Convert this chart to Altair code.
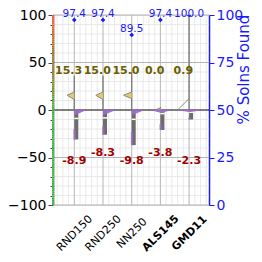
import json
import altair as alt
import numpy as np
import pandas as pd

# ---- data ----
cats = ["RND150", "RND250", "NN250", "ALS145", "GMD11"]
bold_cats = ["ALS145", "GMD11"]
pct_found = [97.4, 97.4, 89.5, 97.4, 100.0]
gain_mean = [15.3, 15.0, 15.0, 0.0, 0.9]
loss_mean = [-8.9, -8.3, -9.8, -3.8, -2.3]

# gain (positive) half-violin, drawn to the left of each category
gain_top = [36, 36, 40, 3, 100]
gain_lo = [11, 11, 12, 0, 0]
gain_peak = [15.5, 15.5, 15.5, 0.5, 0]
gain_hi = [19, 19, 19, 2, 12]
gain_w = [0.25, 0.25, 0.28, 0.15, 0.4]

# loss (negative) half-violin, drawn to the right of each category
loss_top = [-1, -1, -1, -2, -2]
loss_bot = [-31, -26, -37, -21, -10]
loss_tail = [-20, -17, -23, -15, -8]
loss_depth = [5, 5, 5, 3, 2]
loss_wr = [0.43, 0.45, 0.45, 0.4, 0.5]
loss_wl = [0.0, 0.0, 0.0, 0.35, 0.45]

# ---- styling ----
FONT = "DejaVu Sans"
YELLOW = "#e3c86a"
PURPLE = "#9b6cc9"
GREY = "#6c6c6c"
OLIVE = "#6b5c00"
DARKRED = "#a00000"
BLUE = "#1a1aff"

xs = alt.Scale(domain=[-0.742, 4.694], nice=False, zero=False)
ys = alt.Scale(domain=[-100, 100], nice=False, zero=False)
ys_r = alt.Scale(domain=[0, 100], nice=False, zero=False)

idx = list(range(len(cats)))

label_expr = "%s[datum.value]" % json.dumps(cats)
bold_test = " || ".join("datum.value == %d" % cats.index(c) for c in bold_cats)
X_AX = alt.Axis(
    values=idx, labelExpr=label_expr, title=None, grid=False, ticks=False, domain=False,
    labelAngle=-45, labelAlign="center", labelBaseline="middle", labelPadding=28,
    labelFontSize=11, labelColor="black", labelFont=FONT, labelOverlap=False,
    labelFontWeight={"condition": {"test": bold_test, "value": "bold"}, "value": "normal"})
left_ticks = list(range(-100, 101, 10))
Y_AX = alt.Axis(
    values=left_ticks, labelExpr="datum.value % 50 == 0 ? datum.label : ''",
    title=None, grid=False, domain=False, tickColor="#444",
    tickSize={"condition": {"test": "datum.value % 50 == 0", "value": 5}, "value": 3},
    labelFontSize=14, labelColor="black", labelFont=FONT, labelPadding=2,
    labelOverlap=False, labelFlush=False)
R_AX = alt.Axis(
    orient="right", values=[0, 25, 50, 75, 100], grid=False,
    domainColor=BLUE, domainWidth=1.5, tickColor=BLUE, tickSize=5,
    labelColor=BLUE, labelFontSize=14, labelFont=FONT, labelPadding=2, labelFlush=False,
    title="% Solns Found", titleColor=BLUE, titleFont=FONT, titleFontSize=15,
    titleFontWeight="normal", titleAngle=270, titleX=34, titleY=54,
    titleAlign="center", titleBaseline="middle")


def X(f):
    return alt.X(f, scale=xs, axis=X_AX)


def Y(f):
    return alt.Y(f, scale=ys, axis=Y_AX)


# ---- grid ----
minor_x = [round(v, 2) for v in np.arange(-0.6, 4.7, 0.2) if abs(v - round(v)) > 1e-6]
minor_y = [v for v in range(-100, 101, 10) if v % 50 != 0]
vminor = alt.Chart(pd.DataFrame({"x": minor_x})).mark_rule(color="#e4e4e4", strokeWidth=0.8).encode(x=X("x:Q"))
hminor = alt.Chart(pd.DataFrame({"y": minor_y})).mark_rule(color="#e4e4e4", strokeWidth=0.8).encode(y=Y("y:Q"))
vmajor = alt.Chart(pd.DataFrame({"x": idx})).mark_rule(color="#b5b5b5", strokeWidth=1).encode(x=X("x:Q"))
hmajor = alt.Chart(pd.DataFrame({"y": [-100, -50, 50, 100]})).mark_rule(color="#b5b5b5", strokeWidth=1).encode(y=Y("y:Q"))
zero = alt.Chart(pd.DataFrame({"y": [0]})).mark_rule(color="black", strokeWidth=1).encode(y=Y("y:Q"))

# ---- gain half-violins ----
gain_rows = []
for i in idx:
    gain_rows.append({"cat": cats[i], "y": gain_lo[i], "x": i, "x2": i})
    gain_rows.append({"cat": cats[i], "y": gain_peak[i], "x": i - gain_w[i], "x2": i})
    gain_rows.append({"cat": cats[i], "y": gain_hi[i], "x": i, "x2": i})
gain_df = pd.DataFrame(gain_rows)
gain_area = alt.Chart(gain_df).mark_area(color=YELLOW, opacity=0.95).encode(
    y=Y("y:Q"), x=alt.X("x:Q", scale=xs, axis=X_AX, stack=None), x2="x2:Q", detail="cat:N")
gain_edge = alt.Chart(gain_df).mark_line(color="#8a8a8a", strokeWidth=1).encode(
    y=Y("y:Q"), x=X("x:Q"), detail="cat:N", order="y:Q")

gain_range = alt.Chart(pd.DataFrame({"x": idx, "top": gain_top, "bot": [0] * len(idx)})).mark_rule(
    color="#7a7a7a", strokeWidth=1.3).encode(x=X("x:Q"), y=Y("bot:Q"), y2="top:Q")

# ---- loss half-violins ----
box_df = pd.DataFrame({"x": idx, "x2": [i + 0.14 for i in idx], "top": loss_top, "bot": loss_bot,
                       "tail": loss_tail, "tx": [i - 0.03 for i in idx], "tx2": [i + 0.05 for i in idx],
                       "mean": loss_mean})
loss_box = alt.Chart(box_df).mark_rect(color=GREY).encode(x=X("x:Q"), x2="x2:Q", y=Y("top:Q"), y2="bot:Q")
loss_tail_r = alt.Chart(box_df).mark_rect(color=PURPLE, opacity=0.8).encode(
    x=X("tx:Q"), x2="tx2:Q", y=Y("tail:Q"), y2="bot:Q")
loss_med = alt.Chart(box_df).mark_rule(color="white", strokeWidth=1.5).encode(
    x=X("x:Q"), x2="x2:Q", y=Y("mean:Q"))

wedge_rows = []
for i in idx:
    wedge_rows.append({"cat": cats[i], "y": -loss_depth[i], "x": i, "x2": i + 0.05})
    wedge_rows.append({"cat": cats[i], "y": 0, "x": i - loss_wl[i], "x2": i + loss_wr[i]})
wedge = alt.Chart(pd.DataFrame(wedge_rows)).mark_area(color=PURPLE, opacity=0.95).encode(
    y=Y("y:Q"), x=alt.X("x:Q", scale=xs, axis=X_AX, stack=None), x2="x2:Q", detail="cat:N")

# ---- value labels ----
lab_df = pd.DataFrame({
    "x": idx, "gx": [i - 0.2 for i in idx], "gy": [41] * len(idx),
    "gain": [f"{v:.1f}" for v in gain_mean],
    "ly": [-54 if i % 2 == 0 else -45 for i in idx],
    "loss": [f"{v:.1f}" for v in loss_mean],
})
gain_text = alt.Chart(lab_df).mark_text(font=FONT, fontSize=11, fontWeight="bold", color=OLIVE).encode(
    x=X("gx:Q"), y=Y("gy:Q"), text="gain:N")
loss_text = alt.Chart(lab_df).mark_text(font=FONT, fontSize=11, fontWeight="bold", color=DARKRED).encode(
    x=X("x:Q"), y=Y("ly:Q"), text="loss:N")

# ---- gradient left spine ----
seg = np.arange(-100, 100, 2)
grad_df = pd.DataFrame({"y": seg, "y2": seg + 2, "c": seg + 1})
grad = alt.Chart(grad_df).mark_rect().encode(
    x=alt.value(-1), x2=alt.value(1.5),
    y=Y("y:Q"), y2="y2:Q",
    color=alt.Color("c:Q", legend=None, scale=alt.Scale(
        domain=[-100, 0, 50, 100], range=["#4caf50", "#4caf50", "#8f7d4a", "#f55454"])))

left = alt.layer(hminor, vminor, hmajor, vmajor, zero, gain_range, gain_area, gain_edge,
                 loss_box, loss_tail_r, loss_med, wedge, gain_text, loss_text, grad)

# ---- right axis: % solutions found ----
pct_df = pd.DataFrame({"x": idx, "pct": pct_found, "lab": [f"{v:.1f}" for v in pct_found],
                       "ty": [min(v + 3.15, 100.5) for v in pct_found]})
pts = alt.Chart(pct_df).mark_point(shape="diamond", filled=True, color=BLUE, size=22, opacity=1, clip=True).encode(
    x=X("x:Q"), y=alt.Y("pct:Q", scale=ys_r, axis=R_AX))
pct_text = alt.Chart(pct_df).mark_text(font=FONT, fontSize=10.5, color=BLUE).encode(
    x=X("x:Q"), y=alt.Y("ty:Q", scale=ys_r, axis=R_AX), text="lab:N")
right = alt.layer(pts, pct_text)

chart = alt.layer(left, right).resolve_scale(y="independent").properties(
    width=156, height=190,
    autosize=alt.AutoSizeParams(type="none"),
    padding={"left": 45, "top": 7, "right": 45, "bottom": 49},
).configure_view(stroke=None).configure(font=FONT)

chart.save("out.html", embed_options={"renderer": "svg", "actions": False})
